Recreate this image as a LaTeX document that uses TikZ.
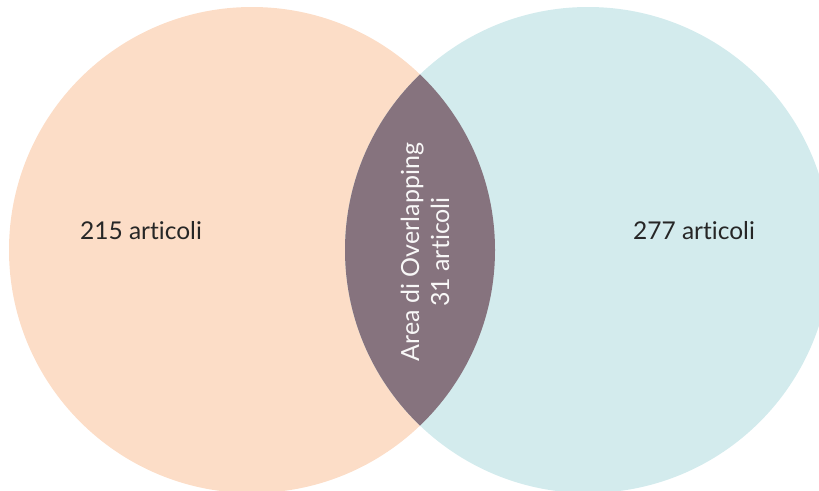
\documentclass[tikz,border=0pt]{standalone}
\usepackage{fontspec}
\setmainfont[Ligatures=NoCommon]{Lato}
\usepackage{tikz}
\definecolor{peach}{HTML}{FCDDC7}
\definecolor{aqua}{HTML}{D3EBED}
\definecolor{mauve}{HTML}{86737E}
\tikzstyle{setlabel}=[text=black!85,font=\fontsize{24.5}{29}\selectfont,
                      inner sep=0pt]
\tikzstyle{lenslabel}=[text=white!94!mauve,font=\fontsize{25}{30}\selectfont,
                       align=center,rotate=90,inner sep=0pt]

\begin{document}
\begin{tikzpicture}[x=1pt,y=-1pt]
    \newcommand{\rad}{243pt}
    \useasboundingbox (0,0) rectangle (819,490);
    \coordinate (cl) at (252,250);
    \coordinate (cr) at (588,250);
    \fill[peach] (cl) circle (\rad);
    \fill[aqua] (cr) circle (\rad);
    \begin{scope}
      \clip (cl) circle (\rad);
      \fill[mauve] (cr) circle (\rad);
    \end{scope}
    \node (nl) at (141,231) [setlabel]{215 articoli};
    \node (nr) at (694,231) [setlabel]{277 articoli};
    \node (nc) at (425,252) [lenslabel]{Area di Overlapping\\31 articoli};
  \end{tikzpicture}
\end{document}
